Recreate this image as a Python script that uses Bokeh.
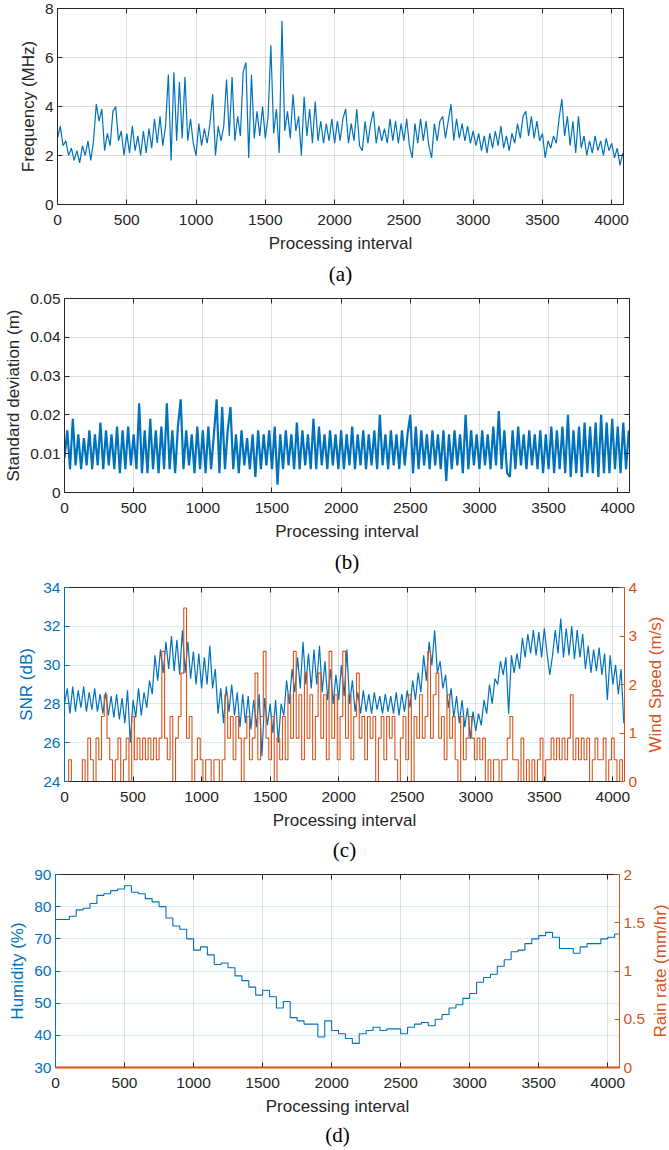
import math
import numpy as np
from bokeh.plotting import figure
from bokeh.layouts import row
from bokeh.models import Range1d, LinearAxis, FixedTicker, Title, CustomJSTickFormatter
from bokeh.core.properties import value
from bokeh.embed import file_html
from bokeh.resources import INLINE

BLUE = "#0072BD"
ORANGE = "#D95319"
DARK = "#262626"
SANS = "Liberation Sans"
SERIF = "Liberation Serif"

X_MAX = 4085
STEP = 20          # processing intervals between the values read below
HUM_STEP = 50
MPH_TO_MS = 0.447

x_ticks = [0, 500, 1000, 1500, 2000, 2500, 3000, 3500, 4000]

# (a) Frequency (MHz), one value every 20 intervals
freq_mhz = [
    2.7, 3.2, 2.4, 2.6, 2.0, 2.3, 1.8, 2.2, 1.7, 2.4,
    2.0, 2.6, 1.8, 2.6, 4.1, 3.4, 3.9, 2.2, 2.9, 2.4,
    3.8, 4.0, 2.6, 3.0, 2.0, 2.9, 2.1, 3.2, 2.2, 2.8,
    2.0, 3.0, 2.1, 3.1, 2.3, 3.5, 2.5, 3.6, 2.4, 3.2,
    5.3, 1.8, 5.4, 2.6, 5.0, 2.7, 5.2, 2.6, 3.5, 2.5,
    2.0, 3.3, 2.4, 3.1, 2.5, 3.3, 4.5, 2.0, 3.2, 2.6,
    3.2, 5.1, 2.8, 5.2, 2.6, 3.6, 2.8, 5.4, 5.8, 1.9,
    5.3, 2.7, 3.8, 2.8, 4.0, 2.7, 3.6, 6.5, 2.9, 3.9,
    2.1, 7.5, 3.0, 3.8, 2.7, 4.5, 3.0, 3.6, 2.0, 4.4,
    2.8, 3.9, 2.5, 4.2, 2.6, 3.4, 2.5, 3.3, 2.6, 3.5,
    2.5, 3.4, 2.6, 3.5, 3.9, 2.5, 3.3, 2.6, 3.9, 2.4,
    2.2, 3.4, 2.5, 3.3, 3.8, 2.5, 3.2, 2.6, 3.1, 2.5,
    3.5, 2.6, 3.4, 2.5, 3.3, 2.6, 3.5, 2.4, 1.9, 3.3,
    2.5, 3.5, 2.6, 3.4, 2.4, 1.9, 3.3, 2.6, 3.4, 3.6,
    2.7, 3.4, 4.1, 2.6, 3.5, 2.7, 3.3, 2.6, 3.2, 2.5,
    3.0, 2.4, 2.9, 2.2, 2.8, 2.1, 2.9, 2.3, 3.0, 2.4,
    3.2, 2.3, 2.8, 2.2, 2.9, 2.5, 3.3, 2.7, 3.6, 3.8,
    2.8, 3.6, 2.7, 3.4, 2.6, 2.9, 1.9, 2.6, 2.3, 2.8,
    2.5, 3.5, 4.3, 2.8, 3.6, 2.4, 3.4, 2.1, 3.6, 2.3,
    2.8, 2.0, 2.6, 2.1, 2.8, 2.2, 2.6, 2.0, 2.7, 2.2,
    2.5, 1.9, 2.3, 1.6, 2.1,
]

# (b) Standard deviation (m), one value every 20 intervals
std_m = [
    0.009, 0.016, 0.006, 0.019, 0.007, 0.015, 0.006, 0.014, 0.007, 0.016,
    0.006, 0.015, 0.007, 0.018, 0.006, 0.016, 0.007, 0.015, 0.006, 0.017,
    0.005, 0.016, 0.006, 0.017, 0.007, 0.015, 0.006, 0.023, 0.005, 0.016,
    0.005, 0.019, 0.006, 0.016, 0.005, 0.017, 0.006, 0.023, 0.006, 0.016,
    0.005, 0.017, 0.024, 0.006, 0.016, 0.007, 0.015, 0.005, 0.017, 0.006,
    0.016, 0.005, 0.017, 0.006, 0.015, 0.024, 0.005, 0.022, 0.006, 0.016,
    0.022, 0.006, 0.015, 0.005, 0.016, 0.007, 0.014, 0.006, 0.015, 0.004,
    0.016, 0.006, 0.015, 0.007, 0.016, 0.006, 0.017, 0.002, 0.015, 0.006,
    0.016, 0.007, 0.015, 0.006, 0.018, 0.006, 0.016, 0.007, 0.015, 0.006,
    0.019, 0.006, 0.017, 0.007, 0.015, 0.006, 0.016, 0.007, 0.015, 0.006,
    0.016, 0.006, 0.015, 0.007, 0.017, 0.006, 0.015, 0.007, 0.016, 0.006,
    0.015, 0.007, 0.016, 0.006, 0.020, 0.007, 0.015, 0.006, 0.016, 0.007,
    0.015, 0.006, 0.016, 0.007, 0.015, 0.020, 0.005, 0.017, 0.006, 0.016,
    0.007, 0.015, 0.006, 0.016, 0.007, 0.015, 0.006, 0.016, 0.003, 0.015,
    0.006, 0.016, 0.007, 0.015, 0.005, 0.020, 0.006, 0.016, 0.007, 0.015,
    0.006, 0.016, 0.007, 0.015, 0.006, 0.017, 0.007, 0.021, 0.006, 0.016,
    0.005, 0.004, 0.016, 0.006, 0.017, 0.007, 0.015, 0.006, 0.016, 0.007,
    0.015, 0.006, 0.016, 0.005, 0.015, 0.006, 0.017, 0.005, 0.016, 0.006,
    0.017, 0.005, 0.020, 0.004, 0.016, 0.005, 0.017, 0.004, 0.018, 0.005,
    0.017, 0.005, 0.018, 0.004, 0.020, 0.005, 0.018, 0.005, 0.019, 0.006,
    0.017, 0.005, 0.018, 0.006, 0.016,
]

# (c) SNR (dB), one value every 20 intervals
snr_db = [
    28.0, 28.8, 27.5, 28.9, 27.6, 28.7, 27.8, 28.9, 27.6, 28.6,
    27.7, 28.8, 27.6, 28.5, 27.5, 28.6, 27.4, 28.4, 27.3, 28.5,
    27.2, 28.3, 27.0, 28.7, 26.0, 28.2, 27.3, 28.8, 27.4, 28.6,
    27.8, 29.2, 28.5, 30.5, 29.2, 30.8, 29.6, 31.2, 29.8, 31.5,
    29.7, 31.3, 29.5, 31.8, 29.6, 31.2, 29.3, 30.7, 29.0, 30.6,
    28.8, 30.4, 29.0, 31.0, 28.8, 29.8, 27.5, 28.8, 27.0, 28.9,
    27.6, 29.0, 27.4, 28.6, 26.8, 28.5, 27.0, 28.4, 26.7, 28.2,
    26.8, 28.5, 25.3, 28.3, 26.9, 28.0, 26.5, 28.2, 26.0, 28.0,
    27.4, 29.2, 28.0, 29.8, 28.6, 30.4, 28.8, 31.2, 29.0, 30.6,
    28.8, 30.8, 29.0, 31.0, 28.6, 30.2, 28.2, 29.8, 28.0, 29.5,
    28.2, 30.0, 28.4, 30.8, 28.0, 29.2, 27.6, 28.6, 27.5, 28.7,
    27.6, 28.5, 27.5, 28.6, 27.7, 28.4, 27.5, 28.5, 27.6, 28.4,
    27.5, 28.6, 27.4, 28.5, 27.6, 28.7, 27.8, 29.2, 28.2, 29.6,
    28.6, 30.5, 29.2, 31.2, 30.0, 31.8, 29.6, 30.2, 28.8, 29.5,
    27.8, 28.8, 27.3, 28.4, 27.0, 28.2, 26.8, 27.8, 26.2, 27.6,
    26.6, 27.5, 26.9, 28.2, 27.5, 29.0, 28.0, 29.3, 29.0, 30.2,
    29.5, 30.4, 27.5, 30.5, 29.6, 30.6, 29.8, 31.4, 30.4, 31.6,
    30.6, 31.8, 30.5, 31.7, 30.4, 31.9, 30.6, 29.5, 30.5, 31.8,
    30.6, 32.4, 30.4, 31.9, 30.5, 32.0, 30.3, 31.8, 30.4, 31.6,
    29.8, 31.0, 29.6, 30.8, 29.7, 30.9, 29.5, 30.6, 28.2, 30.5,
    29.0, 30.0, 28.5, 29.8, 27.0,
]

# (c) Wind speed, recorded in whole mph, one value every 20 intervals
wind_mph = [
    0, 0, 1, 0, 0, 0, 0, 1, 0, 2,
    1, 0, 2, 1, 3, 4, 2, 1, 0, 1,
    2, 0, 1, 2, 0, 3, 1, 2, 1, 2,
    1, 2, 1, 2, 1, 2, 6, 2, 1, 3,
    0, 2, 3, 5, 8, 2, 3, 0, 1, 2,
    1, 0, 1, 1, 0, 1, 1, 0, 1, 4,
    2, 3, 1, 3, 2, 0, 2, 3, 1, 2,
    5, 1, 3, 6, 2, 1, 3, 0, 2, 1,
    3, 1, 4, 2, 6, 2, 4, 1, 5, 2,
    4, 1, 3, 5, 2, 4, 1, 6, 2, 4,
    1, 3, 6, 2, 4, 1, 3, 5, 2, 3,
    1, 3, 2, 3, 0, 2, 3, 1, 3, 2,
    3, 1, 0, 2, 3, 1, 4, 0, 3, 2,
    4, 2, 3, 6, 2, 4, 5, 2, 3, 1,
    4, 2, 3, 1, 0, 3, 1, 2, 3, 2,
    1, 2, 1, 2, 0, 1, 0, 1, 1, 0,
    1, 1, 2, 3, 1, 1, 0, 2, 0, 1,
    0, 1, 0, 1, 2, 0, 1, 1, 2, 1,
    2, 1, 2, 1, 2, 4, 1, 2, 1, 2,
    1, 2, 0, 1, 2, 1, 1, 2, 0, 1,
    2, 1, 0, 1, 0,
]

# (d) Humidity (%), one value every 50 intervals
humidity_pct = [
    76, 76, 77, 79, 79.5, 81, 83.5, 84, 85, 85.5,
    86.5, 84.5, 84, 82.5, 81.5, 80, 76.5, 74, 73, 70,
    66.5, 67.5, 65, 62, 62.5, 61, 58.5, 57, 55, 52.5,
    54, 52, 48.5, 50.5, 45.5, 44.5, 43.5, 43.5, 39.5, 44.5,
    41.5, 40.5, 39, 37.5, 40.5, 41.5, 42.5, 41.5, 42, 42,
    40.5, 42.5, 43.5, 44, 43, 45, 46.5, 48.5, 49.5, 51.5,
    53, 56.5, 58, 59, 61.5, 63.5, 66, 66.5, 68.5, 70,
    71, 72, 70.5, 67, 67, 65.5, 67.5, 68.5, 68.5, 70,
    70.5, 71.5,
]

# (d) Rain rate (mm/hr): zero over the whole record
rain_x = [0, X_MAX]
rain_mm_hr = [0.0, 0.0]


def style_axis(ax, color=DARK, hidden=False):
    ax.axis_line_color = color
    ax.axis_line_width = 1
    ax.major_tick_line_color = color
    ax.major_tick_in = 5
    ax.major_tick_out = 0
    ax.minor_tick_line_color = None
    ax.major_label_text_color = color
    ax.major_label_text_font = SANS
    ax.major_label_text_font_size = "15.5px"
    ax.major_label_standoff = 4
    ax.axis_label_text_font = SANS
    ax.axis_label_text_font_size = "17px"
    ax.axis_label_text_font_style = "normal"
    ax.axis_label_text_color = color
    ax.axis_label_standoff = 4
    if hidden:
        ax.formatter = CustomJSTickFormatter(code="return '';")
        ax.major_label_text_font_size = "1px"
        ax.major_label_standoff = 0
        ax.axis_label = None


def make_panel(width, y0, y1, yticks, ylabel, caption, borders, frame_h,
               left_color=DARK, hgrid_color=DARK, y_formatter=None, cap_standoff=9):
    left_b, right_b, top_b, bottom_b = borders
    p = figure(width=width, height=top_b + frame_h + bottom_b,
               x_range=Range1d(0, X_MAX), y_range=Range1d(y0, y1),
               output_backend="svg", toolbar_location=None,
               min_border_left=left_b, min_border_right=right_b,
               min_border_top=top_b, min_border_bottom=bottom_b)
    p.outline_line_color = None
    p.background_fill_color = "white"
    p.border_fill_color = "white"

    p.xaxis.ticker = FixedTicker(ticks=x_ticks)
    p.xaxis.axis_label = "Processing interval"
    style_axis(p.xaxis[0], DARK)
    p.xaxis.major_label_standoff = 10
    p.xaxis.axis_label_standoff = 6

    p.yaxis.ticker = FixedTicker(ticks=yticks)
    p.yaxis.axis_label = ylabel
    style_axis(p.yaxis[0], left_color)
    if y_formatter is not None:
        p.yaxis.formatter = y_formatter

    top = LinearAxis(ticker=FixedTicker(ticks=x_ticks))
    style_axis(top, DARK, hidden=True)
    p.add_layout(top, "above")

    p.xgrid.grid_line_color = DARK
    p.xgrid.grid_line_alpha = 0.15
    p.ygrid.grid_line_color = hgrid_color
    p.ygrid.grid_line_alpha = 0.15

    cap = Title(text=caption, align="center", text_font=SERIF,
                text_font_size="21px", text_font_style="normal",
                text_color="black", standoff=cap_standoff)
    p.add_layout(cap, "below")
    return p


def add_right_axis(p, ticks, color, range_name=None, formatter=None, hidden=False):
    kw = {}
    if range_name:
        kw["y_range_name"] = range_name
    ax = LinearAxis(ticker=FixedTicker(ticks=ticks), **kw)
    style_axis(ax, color, hidden=hidden)
    if formatter is not None:
        ax.formatter = formatter
    p.add_layout(ax, "right")
    return ax


def side_label(width, host, y_range, text, color):
    """A narrow strip to the right of a panel holding its rotated right-axis title."""
    f = figure(width=width, height=host.height, x_range=Range1d(0, 1),
               y_range=Range1d(*y_range), output_backend="svg", toolbar_location=None,
               x_axis_location=None, y_axis_location=None,
               min_border_left=0, min_border_right=0,
               min_border_top=host.min_border_top, min_border_bottom=host.min_border_bottom)
    f.outline_line_color = None
    f.xgrid.visible = False
    f.ygrid.visible = False
    f.text(x=[0.5], y=[(y_range[0] + y_range[1]) / 2], text=[text], angle=math.pi / 2,
           text_align="center", text_baseline="middle", text_font=value(SANS),
           text_font_size="17px", text_color=color)
    return f


x20 = np.arange(len(freq_mhz)) * STEP

# ---- (a)
pa = make_panel(669, 0, 8, [0, 2, 4, 6, 8], "Frequency (MHz)", "(a)",
                (57, 46, 8, 87), 196)
add_right_axis(pa, [0, 2, 4, 6, 8], DARK, hidden=True)
pa.line(x20, freq_mhz, line_color=BLUE, line_width=1.2)

# ---- (b)
pb = make_panel(669, 0, 0.05, [0, 0.01, 0.02, 0.03, 0.04, 0.05], "Standard deviation (m)", "(b)",
                (64, 40, 7, 87), 194,
                y_formatter=CustomJSTickFormatter(code="return tick.toString();"))
add_right_axis(pb, [0, 0.01, 0.02, 0.03, 0.04, 0.05], DARK, hidden=True)
pb.line(np.arange(len(std_m)) * STEP, std_m, line_color=BLUE, line_width=2.2)

# ---- (c)
pc = make_panel(640, 24, 34, [24, 26, 28, 30, 32, 34], "SNR (dB)", "(c)",
                (64, 15, 8, 85), 194, left_color=BLUE, hgrid_color=BLUE, cap_standoff=7)
pc.extra_y_ranges = {"wind": Range1d(0, 4)}
add_right_axis(pc, [0, 1, 2, 3, 4], ORANGE, range_name="wind")
pc.line(np.arange(len(snr_db)) * STEP, snr_db, line_color=BLUE, line_width=1.2)
wind_ms = [w * MPH_TO_MS for w in wind_mph]
pc.step(np.arange(len(wind_ms)) * STEP, wind_ms, y_range_name="wind",
        line_color=ORANGE, line_width=1.1, mode="center")
lc = side_label(29, pc, (0, 4), "Wind Speed (m/s)", ORANGE)

# ---- (d)
pd_ = make_panel(650, 30, 90, [30, 40, 50, 60, 70, 80, 90], "Humidity (%)", "(d)",
                 (55, 31, 8, 83), 193, left_color=BLUE, hgrid_color=BLUE, cap_standoff=5)
pd_.extra_y_ranges = {"rain": Range1d(0, 2)}
add_right_axis(pd_, [0, 0.5, 1, 1.5, 2], ORANGE, range_name="rain",
               formatter=CustomJSTickFormatter(code="return tick.toString();"))
hum_x = list(np.arange(len(humidity_pct)) * HUM_STEP) + [X_MAX]
hum_y = humidity_pct + [humidity_pct[-1]]
pd_.step(hum_x, hum_y, line_color=BLUE, line_width=1.1, mode="after")
pd_.line(rain_x, rain_mm_hr, y_range_name="rain", line_color=ORANGE,
         line_width=2, level="overlay")
ld = side_label(19, pd_, (0, 2), "Rain rate (mm/hr)", ORANGE)

roots = [pa, pb, row(pc, lc, spacing=0), row(pd_, ld, spacing=0)]
open("out.html", "w").write(file_html(roots, INLINE))
